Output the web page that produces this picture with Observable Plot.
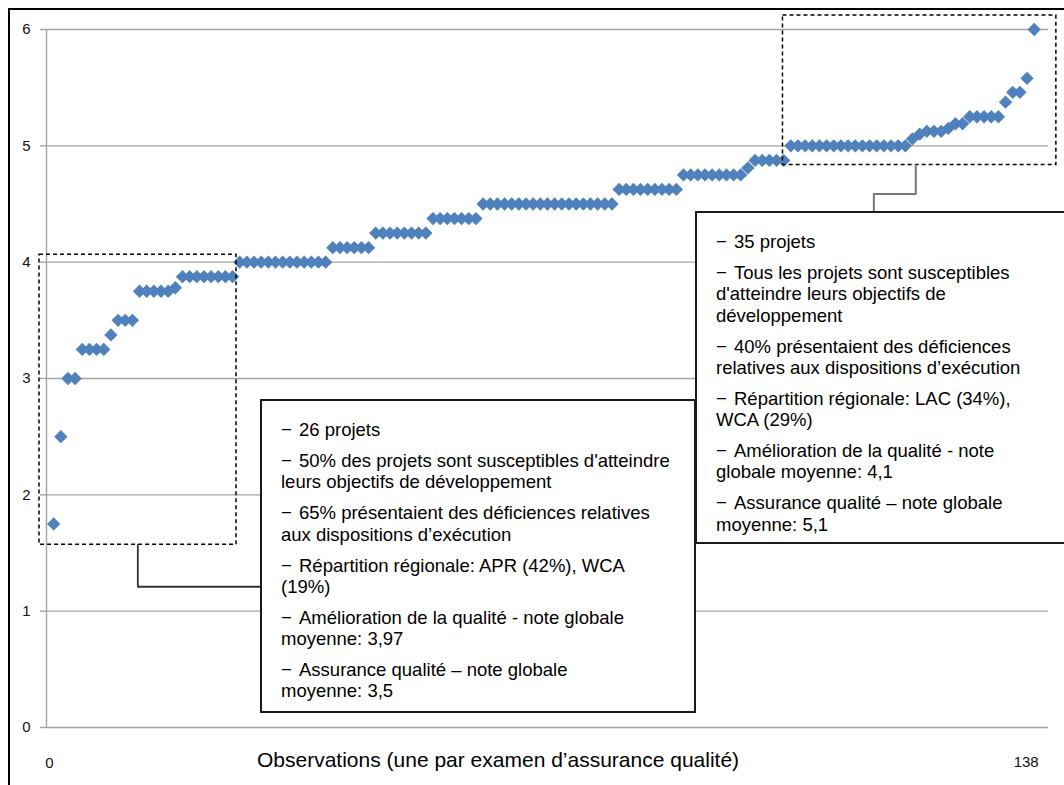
<!DOCTYPE html>
<html>
<head>
<meta charset="utf-8">
<script src="https://cdn.jsdelivr.net/npm/d3@7"></script>
<script src="https://cdn.jsdelivr.net/npm/@observablehq/plot@0.6"></script>
<style>
  html, body { margin: 0; padding: 0; background: #fff; overflow: hidden; }
  #wrap { position: relative; width: 1064px; height: 785px; overflow: hidden;
          font-family: "Liberation Sans", Arial, sans-serif; color: #000; }
  #chart { position: absolute; left: 0; top: 0; }
  #chart svg text { font-size: 15px !important; }
  #frame { position: absolute; left: 8px; top: 8px; width: 1200px; height: 900px;
           border-left: 2.5px solid #000; border-top: 2.5px solid #000; pointer-events: none; }
  .box { position: absolute; background: #fff; border: 2px solid #1a1a1a; box-sizing: border-box;
         padding: 18px 10px 0 19px; font-size: 18.5px; line-height: 21.3px; white-space: nowrap; }
  .box p { margin: 0 0 9.7px 0; }
  .box .d { display: inline-block; width: 18px; }
  #title { position: absolute; left: 257px; top: 748px; font-size: 21px; white-space: nowrap; }
</style>
</head>
<body>
<div id="wrap">
  <div id="chart"></div>
  <div id="frame"></div>
  <div id="title"></div>
  <div id="box1" class="box" style="left:260px; top:399px; width:436px; height:314px;"></div>
  <div id="box2" class="box" style="left:695px; top:211px; width:420px; height:333px;"></div>
</div>
<script>
// ---- Data: quality scores sorted ascending, one per QA review (138 observations) ----
const scores = [
  1.75,
  2.5,
  3.0, 3.0,
  3.25, 3.25, 3.25, 3.25,
  3.375,
  3.5, 3.5, 3.5,
  3.75, 3.75, 3.75, 3.75, 3.75,
  3.78,
  3.875, 3.875, 3.875, 3.875, 3.875, 3.875, 3.875, 3.875,
  4.0, 4.0, 4.0, 4.0, 4.0, 4.0, 4.0, 4.0, 4.0, 4.0, 4.0, 4.0, 4.0,
  4.125, 4.125, 4.125, 4.125, 4.125, 4.125,
  4.25, 4.25, 4.25, 4.25, 4.25, 4.25, 4.25, 4.25,
  4.375, 4.375, 4.375, 4.375, 4.375, 4.375, 4.375,
  4.5, 4.5, 4.5, 4.5, 4.5, 4.5, 4.5, 4.5, 4.5, 4.5, 4.5, 4.5, 4.5, 4.5, 4.5, 4.5, 4.5, 4.5, 4.5,
  4.625, 4.625, 4.625, 4.625, 4.625, 4.625, 4.625, 4.625, 4.625,
  4.75, 4.75, 4.75, 4.75, 4.75, 4.75, 4.75, 4.75, 4.75,
  4.81,
  4.875, 4.875, 4.875, 4.875, 4.875,
  5.0, 5.0, 5.0, 5.0, 5.0, 5.0, 5.0, 5.0, 5.0, 5.0, 5.0, 5.0, 5.0, 5.0, 5.0, 5.0, 5.0,
  5.06, 5.1,
  5.125, 5.125, 5.125,
  5.15,
  5.19, 5.19,
  5.25, 5.25, 5.25, 5.25, 5.25,
  5.375,
  5.46, 5.46,
  5.58,
  6.0
];
const yTicks = [0, 1, 2, 3, 4, 5, 6];
const xTickLabels = [
  {x: 0, label: "0"},
  {x: 138, label: "138"}
];
const xTitle = "Observations (une par examen d’assurance qualité)";

// highlighted groups (data units: observation index, score)
const focusBoxes = [
  {x1: -0.98, x2: 26.55, y1: 1.57, y2: 4.063},
  {x1: 102.9, x2: 141.1, y1: 4.836, y2: 6.12}
];
const connector1 = [
  {x: 12.76, y: 1.57}, {x: 12.76, y: 1.21}, {x: 29.9, y: 1.21}
];
const connector2 = [
  {x: 121.46, y: 4.836}, {x: 121.46, y: 4.586}, {x: 115.6, y: 4.586}, {x: 115.6, y: 4.428}
];

const box1Paras = [
  ["26 projets"],
  ["50% des projets sont susceptibles d'atteindre", "leurs objectifs de développement"],
  ["65% présentaient des déficiences relatives", "aux dispositions d’exécution"],
  ["Répartition régionale: APR (42%), WCA", "(19%)"],
  ["Amélioration de la qualité - note globale", "moyenne: 3,97"],
  ["Assurance qualité – note globale", "moyenne: 3,5"]
];
const box2Paras = [
  ["35 projets"],
  ["Tous les projets sont susceptibles", "d'atteindre leurs objectifs de", "développement"],
  ["40% présentaient des déficiences", "relatives aux dispositions d’exécution"],
  ["Répartition régionale: LAC (34%),", "WCA (29%)"],
  ["Amélioration de la qualité - note", "globale moyenne: 4,1"],
  ["Assurance qualité – note globale", "moyenne: 5,1"]
];

const obs = scores.map((v, i) => ({obs: i + 1, score: v}));
const gray = "#a3a3a3";

const chart = Plot.plot({
  width: 1064,
  height: 785,
  marginLeft: 46,
  marginRight: 16,
  marginTop: 29,
  marginBottom: 58,
  x: {domain: [0, 140], axis: null},
  y: {domain: [0, 6]},
  style: {fontFamily: "'Liberation Sans', Arial, sans-serif", fontSize: "15px", background: "transparent", overflow: "visible"},
  marks: [
    Plot.gridY(yTicks, {stroke: gray, strokeOpacity: 1, strokeWidth: 1.4}),
    Plot.axisY(yTicks, {tickSize: 6, tickPadding: 10, tickFormat: (d) => String(d), stroke: gray, strokeWidth: 1.4, fill: "#111", fontSize: 15, label: null}),
    Plot.ruleX([0], {stroke: gray, strokeWidth: 1.4}),
    Plot.dot(obs, {x: "obs", y: "score", symbol: "diamond2", r: 6, fill: "#4f81bd", stroke: null}),
    Plot.rect(focusBoxes, {x1: "x1", x2: "x2", y1: "y1", y2: "y2", fill: "none", stroke: "#000", strokeWidth: 1.5, strokeDasharray: "4,3"}),
    Plot.line(connector1, {x: "x", y: "y", stroke: "#333", strokeWidth: 1.8, curve: "linear"}),
    Plot.line(connector2, {x: "x", y: "y", stroke: "#777", strokeWidth: 2, curve: "linear"}),
    Plot.text(xTickLabels.slice(0, 1), {x: "x", text: "label", frameAnchor: "bottom", lineAnchor: "middle", dy: 36, dx: 3, fill: "#111", fontSize: 15}),
    Plot.text(xTickLabels.slice(1), {x: "x", text: "label", frameAnchor: "bottom", lineAnchor: "middle", dy: 35, dx: -8, fill: "#111", fontSize: 15})
  ]
});
document.getElementById("chart").appendChild(chart);

document.getElementById("title").textContent = xTitle;

function fillBox(id, paras) {
  const el = document.getElementById(id);
  el.innerHTML = paras.map(lines =>
    "<p><span class='d'>−</span>" + lines.join("<br>") + "</p>").join("");
}
fillBox("box1", box1Paras);
fillBox("box2", box2Paras);
</script>
</body>
</html>
